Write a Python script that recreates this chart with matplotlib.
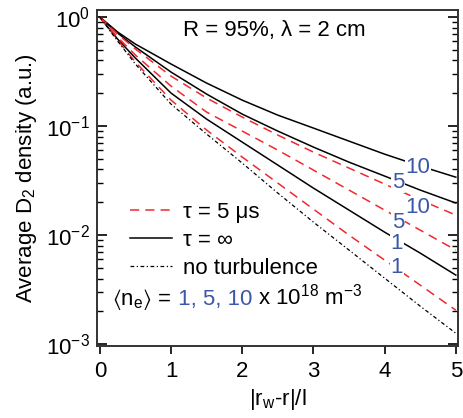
import matplotlib
matplotlib.use("Agg")
import matplotlib.pyplot as plt
from matplotlib.lines import Line2D
from matplotlib.ticker import LogLocator, NullFormatter

x = [0, 0.25, 0.5, 1, 1.5, 2, 2.5, 3, 3.5, 4, 4.5, 5]

# tau = infinity (solid black), <ne> = 10, 5, 1
inf_10 = [1.0, 0.729, 0.565, 0.371, 0.248, 0.173, 0.126, 0.0959, 0.0728, 0.0553, 0.043, 0.034]
inf_5 = [1.0, 0.713, 0.531, 0.313, 0.1966, 0.1288, 0.090, 0.0642, 0.0467, 0.0348, 0.0259, 0.0197]
inf_1 = [1.0, 0.628, 0.4205, 0.2008, 0.1159, 0.0713, 0.0439, 0.027, 0.01696, 0.01065, 0.00684, 0.0043]

# tau = 5 us (dashed red)
t5_10 = [1.0, 0.698, 0.509, 0.2875, 0.1807, 0.121, 0.0827, 0.0577, 0.0412, 0.0294, 0.021, 0.01527]
t5_5 = [1.0, 0.655, 0.448, 0.2328, 0.1344, 0.090, 0.0602, 0.0395, 0.0259, 0.01696, 0.01111, 0.00729]
t5_1 = [1.0, 0.615, 0.3865, 0.1732, 0.0919, 0.052, 0.030, 0.01732, 0.010, 0.0059, 0.00348, 0.00205]

# no turbulence
no_turb = [1.0, 0.602, 0.3705, 0.159, 0.0845, 0.0458, 0.0243, 0.01316, 0.00729, 0.00403, 0.00223, 0.00126]

# curve labels: text, x, y
curve_labels = [("10", 4.47, 0.042), ("5", 4.19, 0.0306), ("10", 4.47, 0.0181),
                ("5", 4.19, 0.01316), ("1", 4.17, 0.00845), ("1", 4.17, 0.00508)]

RED = "#ee2a2f"
BLUE = "#3b57a7"
FS = 16

plt.rcParams["font.family"] = ["Liberation Sans", "DejaVu Sans"]
plt.rcParams["mathtext.fontset"] = "custom"
plt.rcParams["mathtext.rm"] = "Liberation Sans"
plt.rcParams["mathtext.it"] = "Liberation Sans"
plt.rcParams["mathtext.default"] = "regular"
plt.rcParams["font.size"] = FS
plt.rcParams["axes.unicode_minus"] = False

fig = plt.figure(figsize=(4.64, 4.18), dpi=100)
ax = fig.add_axes([0.209, 0.172, 0.778, 0.804])

dash = (0, (6, 4))
dashdot = (0, (3, 2, 1, 2))
for ys in (inf_10, inf_5, inf_1):
    ax.plot(x, ys, color="black", lw=1.1)
for ys in (t5_10, t5_5, t5_1):
    ax.plot(x, ys, color=RED, lw=1.1, linestyle=dash)
ax.plot(x, no_turb, color="black", lw=0.9, linestyle=dashdot)

for txt, lx, ly in curve_labels:
    ax.text(lx, ly, txt, color=BLUE, fontsize=FS, ha="center", va="center",
            bbox=dict(facecolor="white", edgecolor="none", pad=0.5))

ax.set_yscale("log")
ax.set_xlim(-0.04, 5.03)
ax.set_ylim(0.00096, 1.16)
ax.set_xticks([0, 1, 2, 3, 4, 5])
ax.yaxis.set_minor_locator(LogLocator(base=10, subs=range(2, 10)))
ax.yaxis.set_minor_formatter(NullFormatter())

for s in ax.spines.values():
    s.set_linewidth(1.4)
    s.set_color("#333333")
ax.tick_params(axis="y", which="both", direction="in", right=True, left=True)
ax.tick_params(axis="y", which="major", length=7, width=1.2)
ax.tick_params(axis="y", which="minor", length=4, width=1.0)
ax.tick_params(axis="x", which="major", direction="out", length=6, width=1.2, top=False)
ax.tick_params(axis="both", labelsize=FS, pad=5)

ax.set_xlabel(r"|r$_{\rm w}$-r|/l", fontsize=FS, labelpad=3)
ax.set_ylabel(r"Average D$_2$ density (a.u.)", fontsize=FS, labelpad=5)

ax.text(0.49, 0.94, "R = 95%, λ = 2 cm", transform=ax.transAxes, ha="center", va="center", fontsize=FS)

handles = [Line2D([], [], color=RED, lw=1.1, linestyle=dash),
           Line2D([], [], color="black", lw=1.1),
           Line2D([], [], color="black", lw=0.9, linestyle=dashdot)]
ax.legend(handles, ["τ = 5 μs", "τ = ∞", "no turbulence"], loc="upper left",
          bbox_to_anchor=(0.091, 0.43), frameon=False, borderaxespad=0, borderpad=0,
          handlelength=1.9, handletextpad=0.5, labelspacing=0.33, fontsize=FS)

# <ne> line, built from pieces so the numbers can be blue
fig.canvas.draw()
renderer = fig.canvas.get_renderer()
pieces = [(r"$\langle$n$_e$$\rangle$ =", "black"), (" 1, 5, 10", BLUE),
          (r" x 10$^{18}$ m$^{-3}$", "black")]
px, py = ax.transData.transform((0.17, 0.0023))
for txt, col in pieces:
    t = fig.text(px / fig.dpi / fig.get_figwidth(), py / fig.dpi / fig.get_figheight(), txt,
                 color=col, fontsize=FS, ha="left", va="baseline")
    px = t.get_window_extent(renderer).x1

fig.savefig("out.png", dpi=100)
